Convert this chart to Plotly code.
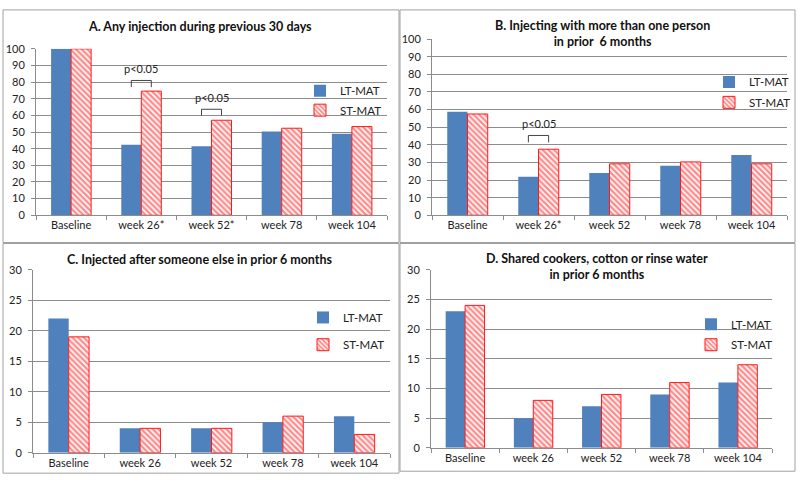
import plotly.graph_objects as go

# ---------------- data ----------------
cats_A = ["Baseline", "week 26*", "week 52*", "week 78", "week 104"]
cats_B = ["Baseline", "week 26*", "week 52", "week 78", "week 104"]
cats_C = ["Baseline", "week 26", "week 52", "week 78", "week 104"]
cats_D = ["Baseline", "week 26", "week 52", "week 78", "week 104"]

lt_A = [100, 42.3, 41.4, 50.4, 49.0]
st_A = [100, 74.6, 57.1, 52.3, 53.3]
lt_B = [58.8, 21.8, 24.0, 28.1, 34.2]
st_B = [57.5, 37.5, 29.2, 30.3, 29.2]
lt_C = [22, 4, 4, 5, 6]
st_C = [19, 4, 4, 6, 3]
lt_D = [23, 5, 7, 9, 11]
st_D = [24, 8, 9, 11, 14]

titles = [
    "A. Any injection during previous 30 days",
    "B. Injecting with more than one person<br>in prior  6 months",
    "C. Injected after someone else in prior 6 months",
    "D. Shared cookers, cotton or rinse water<br>in prior 6 months",
]
series_names = ["LT-MAT", "ST-MAT"]

# significance brackets: (panel, category index, leg bottom, bracket top, label)
sig_panel = ["A", "A", "B"]
sig_cat = [1, 2, 1]
sig_low = [77, 60, 41.4]
sig_high = [81, 63.7, 45.3]
sig_label = ["p<0.05", "p<0.05", "p<0.05"]

# ---------------- layout helpers ----------------
W, H = 800, 485
def px(x):
    return x / W
def py(y):
    return 1 - y / H

BLUE = "#4F81BD"
RED = "#FF1A1A"
FONT = "Lato"
GRID = "#8C8C8C"

panels = {
    "A": dict(cats=cats_A, lt=lt_A, st=st_A, title=titles[0], rng=[0, 100], dtick=10,
              dom_x=[px(36), px(387)], dom_y=[py(214), py(43)],
              title_xy=(200, 20), leg=[(300, 86), (300, 106)], box=(3, 3, 399, 242)),
    "B": dict(cats=cats_B, lt=lt_B, st=st_B, title=titles[1], rng=[0, 100], dtick=10,
              dom_x=[px(432), px(787)], dom_y=[py(214), py(33)],
              title_xy=(602, 27), leg=[(709, 77), (709, 98)], box=(400, 3, 795, 242)),
    "C": dict(cats=cats_C, lt=lt_C, st=st_C, title=titles[2], rng=[0, 30], dtick=5,
              dom_x=[px(33), px(390)], dom_y=[py(458), py(270)],
              title_xy=(200, 259), leg=[(303, 319), (303, 347)], box=(3, 243, 399, 479)),
    "D": dict(cats=cats_D, lt=lt_D, st=st_D, title=titles[3], rng=[0, 30], dtick=5,
              dom_x=[px(431), px(772)], dom_y=[py(453), py(270)],
              title_xy=(597, 267), leg=[(691, 326), (691, 347)], box=(400, 243, 795, 477)),
}

fig = go.Figure()
layout = dict(
    width=W, height=H, margin=dict(l=0, r=0, t=0, b=0),
    paper_bgcolor="white", plot_bgcolor="white",
    barmode="group", bargap=0.43, bargroupgap=0,
    font=dict(family=FONT, size=11, color="#222222"),
)
annotations = []
shapes = []
leg_idx = 0
for i, key in enumerate(["A", "B", "C", "D"]):
    p = panels[key]
    ax = "" if i == 0 else str(i + 1)
    xa, ya = "x" + ax, "y" + ax
    for s, (name, vals) in enumerate(zip(series_names, [p["lt"], p["st"]])):
        leg_idx += 1
        lname = "legend" if leg_idx == 1 else "legend%d" % leg_idx
        if s == 0:
            marker = dict(color=BLUE, line=dict(width=0))
        else:
            marker = dict(color="white", line=dict(color=RED, width=1),
                          pattern=dict(shape="\\", fgcolor=RED, bgcolor="white",
                                       size=4, solidity=0.6))
        fig.add_trace(go.Bar(x=p["cats"], y=vals, name=name, marker=marker,
                             xaxis=xa, yaxis=ya, legend=lname, showlegend=True))
        lx, ly = p["leg"][s]
        layout[lname] = dict(x=px(lx), y=py(ly), xanchor="left", yanchor="middle",
                             bgcolor="rgba(0,0,0,0)", font=dict(family=FONT, size=11.5, color="#222"),
                             itemwidth=30)
    layout["xaxis" + ax] = dict(domain=p["dom_x"], anchor=ya, type="category",
                                showline=True, linecolor=GRID, linewidth=1,
                                ticks="outside", tickson="boundaries", ticklen=4,
                                tickcolor=GRID, showgrid=False, fixedrange=True,
                                tickfont=dict(family=FONT, size=11, color="#222"))
    layout["yaxis" + ax] = dict(domain=p["dom_y"], anchor=xa, range=p["rng"], dtick=p["dtick"],
                                showline=True, linecolor=GRID, linewidth=1,
                                ticks="outside", ticklen=4, tickcolor=GRID,
                                ticklabelstandoff=4,
                                showgrid=True, gridcolor=GRID, gridwidth=1,
                                zeroline=False, fixedrange=True,
                                tickfont=dict(family=FONT, size=11, color="#222"))
    tx, ty = p["title_xy"]
    annotations.append(dict(text="<b>" + p["title"] + "</b>", x=px(tx), y=py(ty),
                            xref="paper", yref="paper", showarrow=False,
                            xanchor="center", yanchor="middle",
                            font=dict(family=FONT, size=12.5, color="#111")))
    x0, y0, x1, y1 = p["box"]
    shapes.append(dict(type="rect", xref="paper", yref="paper",
                       x0=px(x0), x1=px(x1), y0=py(y1), y1=py(y0),
                       line=dict(color="#A0A0A0", width=1)))

# significance brackets
keys = ["A", "B", "C", "D"]
off = (1 - 0.43) / 4
for pk, ci, lo, hi, lab in zip(sig_panel, sig_cat, sig_low, sig_high, sig_label):
    i = keys.index(pk)
    ax = "" if i == 0 else str(i + 1)
    xa, ya = "x" + ax, "y" + ax
    xl, xr = ci - off, ci + off
    shapes.append(dict(type="path", xref=xa, yref=ya,
                       path="M %f,%f L %f,%f L %f,%f L %f,%f" % (xl, lo, xl, hi, xr, hi, xr, lo),
                       line=dict(color="#444444", width=1)))
    span = panels[pk]["rng"][1]
    annotations.append(dict(text=lab, x=ci, y=hi + span * 0.02, xref=xa, yref=ya,
                            showarrow=False, yanchor="bottom",
                            font=dict(family=FONT, size=11, color="#222")))

layout["annotations"] = annotations
layout["shapes"] = shapes
fig.update_layout(**layout)
fig.write_html("out.html", config={"displayModeBar": False},
               post_script="document.body.style.margin='0';document.body.style.overflow='hidden';")
